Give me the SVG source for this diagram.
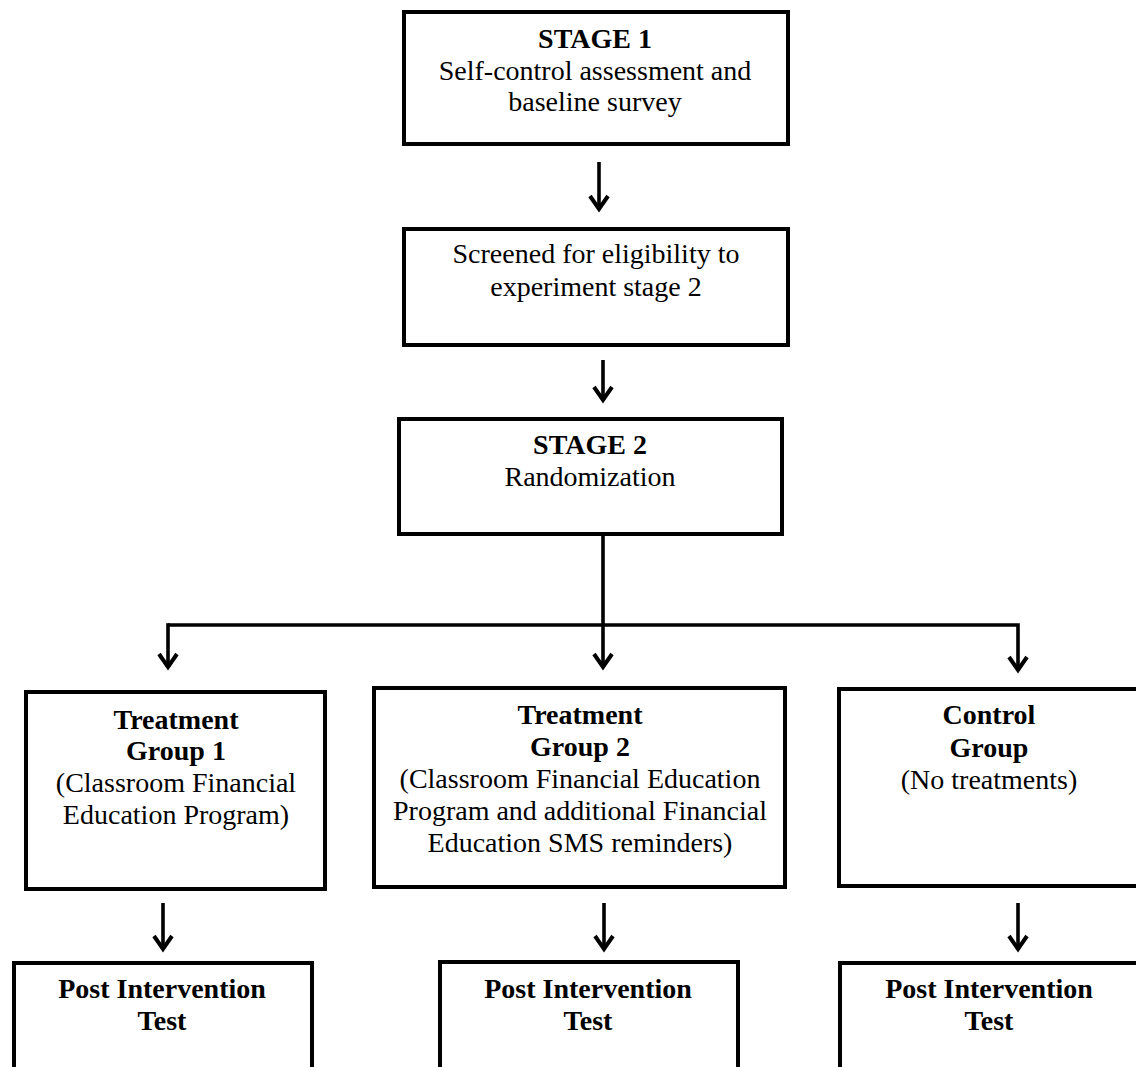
<svg xmlns="http://www.w3.org/2000/svg" width="1136" height="1067" viewBox="0 0 1136 1067">
<style>
.box{fill:#fff;stroke:#000;stroke-width:4}
.t{font-family:"Liberation Serif","Times New Roman",serif;font-size:28px;fill:#000;text-anchor:middle}
.b{font-weight:bold}
.c{fill:none;stroke:#000;stroke-width:3.6}
</style>
<defs>
<marker id="ah" markerUnits="userSpaceOnUse" viewBox="-18 -14 22 28" refX="0" refY="0" markerWidth="22" markerHeight="28" orient="auto">
<path d="M-13,-9 L0,0 L-13,9" fill="none" stroke="#000" stroke-width="4" stroke-linejoin="miter"/>
</marker>
</defs>
<rect width="1136" height="1067" fill="#fff"/>
<g id="connectors">
<line class="c" x1="599" y1="162" x2="599" y2="209" marker-end="url(#ah)"/>
<line class="c" x1="603" y1="360" x2="603" y2="400" marker-end="url(#ah)"/>
<line class="c" x1="603" y1="536" x2="603" y2="667" marker-end="url(#ah)"/>
<polyline class="c" points="168,625 1018,625 1018,670" marker-end="url(#ah)"/>
<line class="c" x1="168" y1="623.2" x2="168" y2="667" marker-end="url(#ah)"/>
<line class="c" x1="163" y1="903" x2="163" y2="949" marker-end="url(#ah)"/>
<line class="c" x1="604" y1="903" x2="604" y2="949" marker-end="url(#ah)"/>
<line class="c" x1="1018" y1="903" x2="1018" y2="949" marker-end="url(#ah)"/>
</g>
<g id="stage1">
<rect class="box" x="404" y="12" width="384" height="132"/>
<text class="t b" x="595" y="48">STAGE 1</text>
<text class="t" x="595" y="80">Self-control assessment and</text>
<text class="t" x="595" y="111">baseline survey</text>
</g>
<g id="screened">
<rect class="box" x="404" y="229" width="384" height="116"/>
<text class="t" x="596" y="263">Screened for eligibility to</text>
<text class="t" x="596" y="296">experiment stage 2</text>
</g>
<g id="stage2">
<rect class="box" x="399" y="419" width="383" height="115"/>
<text class="t b" x="590" y="454">STAGE 2</text>
<text class="t" x="590" y="486">Randomization</text>
</g>
<g id="treatment1">
<rect class="box" x="26" y="692" width="299" height="197"/>
<text class="t b" x="176" y="729">Treatment</text>
<text class="t b" x="176" y="760">Group 1</text>
<text class="t" x="176" y="792">(Classroom Financial</text>
<text class="t" x="176" y="824">Education Program)</text>
</g>
<g id="treatment2">
<rect class="box" x="374" y="688" width="411" height="199"/>
<text class="t b" x="580" y="724">Treatment</text>
<text class="t b" x="580" y="756">Group 2</text>
<text class="t" x="580" y="788">(Classroom Financial Education</text>
<text class="t" x="580" y="820">Program and additional Financial</text>
<text class="t" x="580" y="852">Education SMS reminders)</text>
</g>
<g id="control">
<rect class="box" x="839" y="689" width="302" height="197"/>
<text class="t b" x="989" y="724">Control</text>
<text class="t b" x="989" y="757">Group</text>
<text class="t" x="989" y="789">(No treatments)</text>
</g>
<g id="post1">
<rect class="box" x="14" y="963" width="298" height="150"/>
<text class="t b" x="162" y="998">Post Intervention</text>
<text class="t b" x="162" y="1030">Test</text>
</g>
<g id="post2">
<rect class="box" x="440" y="962" width="298" height="150"/>
<text class="t b" x="588" y="998">Post Intervention</text>
<text class="t b" x="588" y="1030">Test</text>
</g>
<g id="post3">
<rect class="box" x="840" y="963" width="302" height="150"/>
<text class="t b" x="989" y="998">Post Intervention</text>
<text class="t b" x="989" y="1030">Test</text>
</g>
</svg>
